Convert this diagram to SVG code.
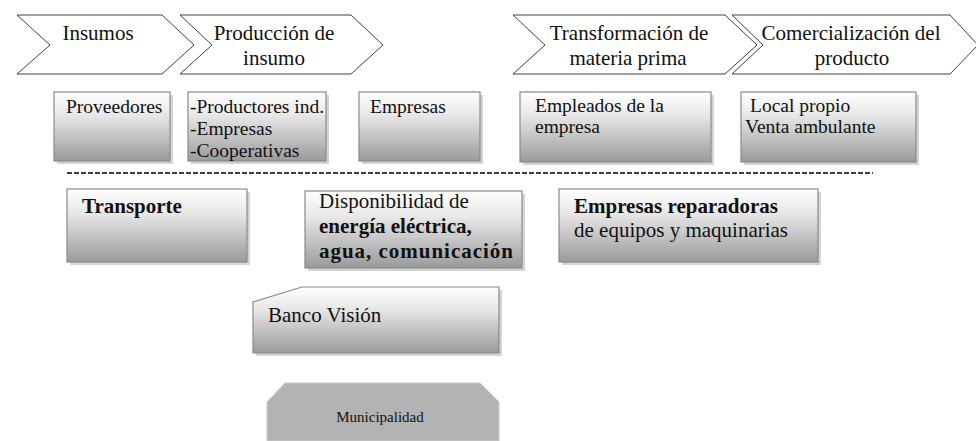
<svg xmlns="http://www.w3.org/2000/svg" width="976" height="441" viewBox="0 0 976 441" font-family="'Liberation Serif', 'Times New Roman', serif">
<style>
.chev{fill:#fff;stroke:#404040;stroke-width:1}
.box{fill:url(#g);stroke:#8a8a8a;stroke-width:1.2}
.sh{fill:#b8b8b8;opacity:0.6}
.t1{font-size:21px}
.t2{font-size:19.5px}
.t3{font-size:21px}
.b{font-weight:bold}
.m{text-anchor:middle}
</style>
<defs>
<linearGradient id="g" x1="0" y1="0" x2="0" y2="1">
<stop offset="0" stop-color="#ffffff"/>
<stop offset="0.35" stop-color="#e6e6e6"/>
<stop offset="1" stop-color="#9a9a9a"/>
</linearGradient>
</defs>
<rect width="976" height="441" fill="#fff"/>

<g id="chev-insumos" fill="#111">
<polygon class="chev" points="17,15 162,15 194,45 162,74 17,74 50,45"/>
<text class="t1 m" x="98" y="40">Insumos</text>
</g>
<g id="chev-produccion" fill="#111">
<polygon class="chev" points="180,15 351,15 383,45 351,74 180,74 212,45"/>
<text class="t1 m" x="274" y="40">Producción de</text>
<text class="t1 m" x="274" y="65">insumo</text>
</g>
<g id="chev-transformacion" fill="#111">
<polygon class="chev" points="513,15 725,15 757,45 725,74 513,74 545,45"/>
<text class="t1 m" x="629" y="40">Transformación de</text>
<text class="t1 m" x="628" y="65">materia prima</text>
</g>
<g id="chev-comercializacion" fill="#111">
<polygon class="chev" points="732,15 950,15 978,45 950,74 732,74 763,45"/>
<text class="t1 m" x="851" y="40">Comercialización del</text>
<text class="t1 m" x="852" y="65">producto</text>
</g>

<g id="box-proveedores" fill="#111">
<rect class="sh" x="57" y="95" width="116" height="69"/>
<rect class="box" x="54" y="92" width="116" height="69"/>
<text class="t2" x="66" y="113">Proveedores</text>
</g>
<g id="box-productores" fill="#111">
<rect class="sh" x="191" y="95" width="138" height="69"/>
<rect class="box" x="188" y="92" width="138" height="69"/>
<text class="t2" x="190" y="113" textLength="134">-Productores ind.</text>
<text class="t2" x="190" y="135">-Empresas</text>
<text class="t2" x="190" y="157">-Cooperativas</text>
</g>
<g id="box-empresas" fill="#111">
<rect class="sh" x="362" y="95" width="121" height="69"/>
<rect class="box" x="359" y="92" width="121" height="69"/>
<text class="t2" x="370" y="113">Empresas</text>
</g>
<g id="box-empleados" fill="#111">
<rect class="sh" x="523" y="95" width="191" height="70"/>
<rect class="box" x="520" y="92" width="191" height="70"/>
<text class="t2" x="535" y="112">Empleados de la</text>
<text class="t2" x="535" y="133">empresa</text>
</g>
<g id="box-local" fill="#111">
<rect class="sh" x="744" y="95" width="175" height="70"/>
<rect class="box" x="741" y="92" width="175" height="70"/>
<text class="t2" x="750" y="112">Local propio</text>
<text class="t2" x="745" y="133">Venta ambulante</text>
</g>

<g id="connectors">
<line x1="67" y1="173" x2="873" y2="173" stroke="#000" stroke-width="1.5" stroke-dasharray="5,2"/>
</g>

<g id="box-transporte" fill="#111">
<rect class="sh" x="70" y="192" width="180" height="73"/>
<rect class="box" x="67" y="189" width="180" height="73"/>
<text class="t3 b" x="82" y="213">Transporte</text>
</g>
<g id="box-disponibilidad" fill="#111">
<rect class="sh" x="308" y="194" width="217" height="77"/>
<rect class="box" x="305" y="191" width="217" height="77"/>
<text class="t3" x="319" y="208">Disponibilidad de</text>
<text class="t3 b" x="319" y="233">energía eléctrica,</text>
<text class="t3 b" x="319" y="258" textLength="194">agua, comunicación</text>
</g>
<g id="box-reparadoras" fill="#111">
<rect class="sh" x="562" y="192" width="259" height="73"/>
<rect class="box" x="559" y="189" width="259" height="73"/>
<text class="t3 b" x="574" y="213">Empresas reparadoras</text>
<text class="t3" x="574" y="237">de equipos y maquinarias</text>
</g>

<g id="box-banco" fill="#111">
<polygon class="sh" points="256,305 305,290 502,290 502,356 256,356"/>
<polygon class="box" points="253,302 302,287 499,287 499,353 253,353"/>
<text class="t3" x="268" y="322">Banco Visión</text>
</g>

<g id="node-municipalidad" fill="#111">
<polygon points="285,383 480,383 499,402 499,441 267,441 267,402" fill="#b3b3b3" stroke="#c8c8c8" stroke-width="1"/>
<text class="m" x="380" y="422" font-size="15">Municipalidad</text>
</g>
</svg>
